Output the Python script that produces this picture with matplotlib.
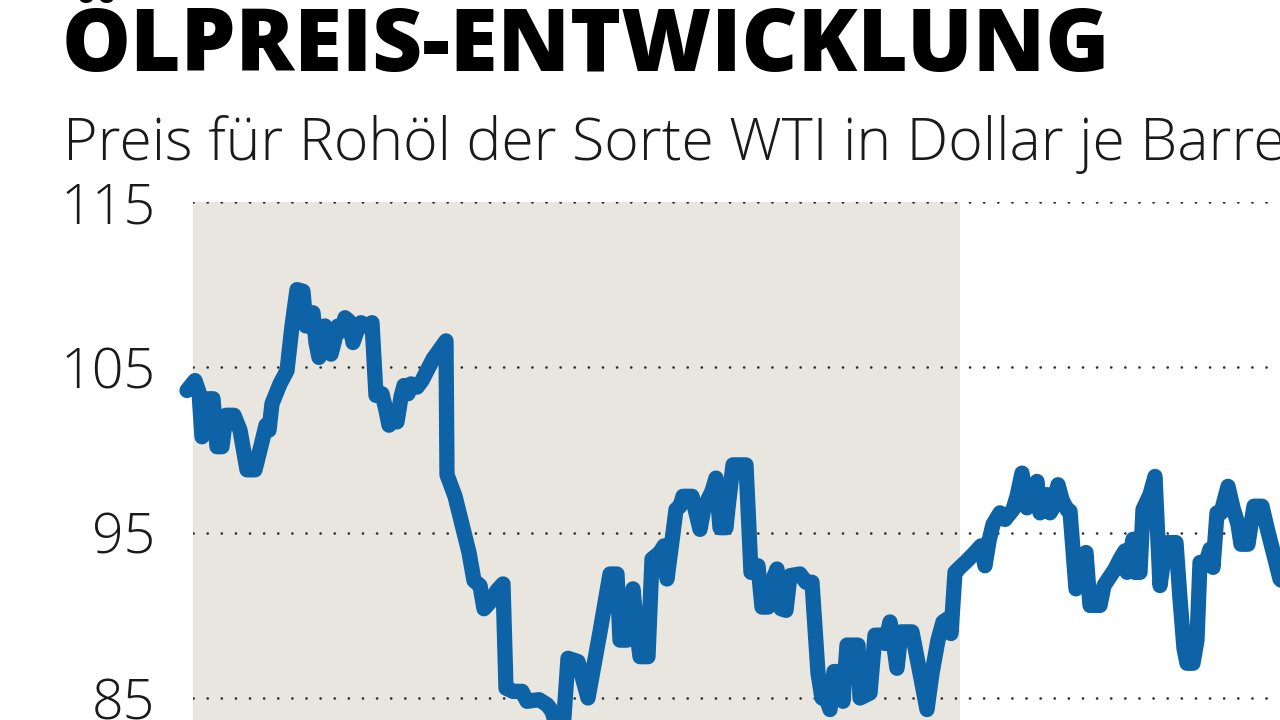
import matplotlib
matplotlib.use("Agg")
import matplotlib.pyplot as plt
from matplotlib import font_manager

# ---- data (time index in arbitrary trading-day units, WTI price in USD/barrel)
tage = [0, 8, 12, 15, 19, 22, 26, 30, 35, 39,
        47, 53, 60, 68, 75, 79, 82, 85, 93, 100,
        105, 110, 116, 119, 122, 126, 129, 132, 135, 138,
        141, 144, 147, 151, 155, 158, 162, 166, 170, 174,
        179, 185, 189, 195, 199, 202, 206, 210, 214, 217,
        221, 224, 230, 235, 246, 259, 260, 268, 275, 282,
        287, 293, 297, 303, 310, 316, 319, 326, 335, 340,
        352, 360, 365, 371, 376, 381, 391, 401, 413, 423,
        430, 433, 440, 446, 450, 453, 461, 465, 473, 477,
        480, 485, 489, 493, 496, 505, 513, 517, 525, 529,
        533, 539, 541, 546, 559, 564, 569, 571, 575, 581,
        586, 590, 594, 599, 603, 613, 619, 625, 631, 635,
        638, 643, 647, 653, 656, 660, 671, 673, 683, 688,
        695, 698, 703, 706, 710, 714, 725, 733, 740, 745,
        751, 756, 761, 764, 768, 773, 780, 788, 794, 798,
        802, 806, 813, 818, 826, 830, 835, 840, 845, 850,
        853, 857, 860, 863, 866, 871, 875, 880, 883, 889,
        893, 899, 903, 913, 917, 928, 933, 938, 940, 946,
        948, 953, 956, 963, 968, 973, 977, 981, 989, 993,
        997, 1000, 1006, 1010, 1013, 1019, 1023, 1026, 1030, 1034,
        1041, 1046, 1051, 1054, 1061, 1064, 1067, 1075, 1080, 1093,
        1103]
preis = [103.6, 104.2, 103.5, 100.8, 101.2, 103.1, 103.1, 100.2, 100.2, 102.1,
         102.1, 101.2, 98.8, 98.8, 100.5, 101.5, 101.2, 102.8, 104.0, 104.8,
         107.5, 109.7, 109.6, 107.5, 108.3, 108.3, 106.5, 105.6, 106.5, 107.5,
         107.3, 105.8, 106.5, 107.5, 107.2, 108.0, 107.8, 106.5, 107.2, 107.7,
         107.5, 107.7, 103.3, 103.4, 102.4, 101.5, 102.2, 101.7, 103.2, 103.9,
         103.4, 104.0, 103.8, 104.2, 105.5, 106.6, 98.5, 97.2, 95.5, 93.8,
         92.1, 91.8, 90.4, 90.8, 91.5, 91.9, 85.6, 85.4, 85.4, 84.8,
         84.9, 84.6, 84.2, 83.0, 83.0, 87.4, 87.2, 85.0, 89.0, 92.5,
         92.5, 88.5, 88.5, 91.6, 89.0, 87.5, 87.5, 93.4, 93.8, 94.2,
         92.2, 94.5, 96.4, 96.6, 97.2, 97.2, 95.2, 96.5, 97.5, 98.3,
         95.3, 95.3, 96.5, 99.1, 99.1, 92.6, 92.6, 93.0, 90.5, 90.5,
         92.2, 92.8, 90.4, 90.3, 92.4, 92.5, 92.0, 92.0, 86.5, 85.0,
         85.2, 84.3, 86.6, 86.6, 84.8, 88.2, 88.2, 85.0, 85.3, 88.8,
         88.8, 88.3, 89.6, 88.5, 86.8, 89.0, 89.0, 86.5, 84.3, 86.5,
         88.5, 89.6, 89.8, 88.9, 92.6, 92.9, 93.3, 93.8, 94.2, 93.0,
         94.5, 95.5, 96.2, 95.8, 96.4, 97.2, 98.6, 96.5, 97.0, 98.1,
         96.2, 96.4, 97.3, 96.2, 96.5, 97.9, 97.0, 96.4, 96.3, 91.6,
         92.6, 93.8, 90.6, 90.6, 91.8, 92.8, 93.4, 93.9, 92.6, 94.6,
         92.6, 92.6, 96.4, 97.3, 98.4, 91.8, 93.5, 94.4, 94.4, 91.0,
         88.0, 87.1, 87.1, 88.5, 93.2, 93.2, 94.0, 92.9, 96.2, 96.2,
         97.8, 96.5, 95.5, 94.3, 94.3, 95.5, 96.6, 96.6, 95.3, 92.2,
         91.5]
y_ticks = [85, 95, 105, 115]
y_tick_labels = ["85", "95", "105", "115"]
shade_range = (6, 773)

titel = "ÖLPREIS-ENTWICKLUNG"
untertitel = "Preis für Rohöl der Sorte WTI in Dollar je Barrel"

# ---- fonts
names = {f.name for f in font_manager.fontManager.ttflist}
fam = "Open Sans" if "Open Sans" in names else "DejaVu Sans"

BLUE = "#0d63a5"
SHADE = "#e9e6df"

W, H = 1280, 720
fig = plt.figure(figsize=(12.8, 7.2), dpi=100)
fig.patch.set_facecolor("white")

px_per_unit = (698 - 202) / 30.0
top_px = 202
ymax = 115
ymin = ymax - (H - top_px) / px_per_unit
left_px = 193
ax = fig.add_axes([left_px / W, 0, 1 - left_px / W, (H - top_px) / H])
ax.set_ylim(ymin, ymax)
ax.set_xlim(6, 1093)
ax.set_facecolor("none")
for s in ax.spines.values():
    s.set_visible(False)

ax.axvspan(shade_range[0], shade_range[1], ymin=0, ymax=1, color=SHADE, lw=0, zorder=0)

for yv in y_ticks:
    ax.axhline(yv, color="#2b2b2b", lw=1.9, linestyle=(0, (0.05, 5.3)),
               dash_capstyle="round", zorder=1)

ax.plot(tage, preis, color=BLUE, lw=11, solid_joinstyle="round",
        solid_capstyle="round", zorder=3, clip_on=False)

ax.set_xticks([])
ax.set_yticks(y_ticks)
ax.set_yticklabels(y_tick_labels)
ax.tick_params(axis="y", length=0, pad=27, labelsize=40, labelcolor="#1a1a1a")
for lab in ax.get_yticklabels():
    lab.set_fontfamily(fam)
    lab.set_fontweight("light")

fig.text(62 / W, 1 - 71 / H, titel, fontsize=62.5, fontweight="heavy",
         family=fam, color="black", va="baseline", ha="left")
fig.text(63 / W, 1 - 160 / H, untertitel, fontsize=42.5, fontweight="light",
         family=fam, color="#1a1a1a", va="baseline", ha="left")

fig.savefig("out.png", dpi=100, facecolor="white")
